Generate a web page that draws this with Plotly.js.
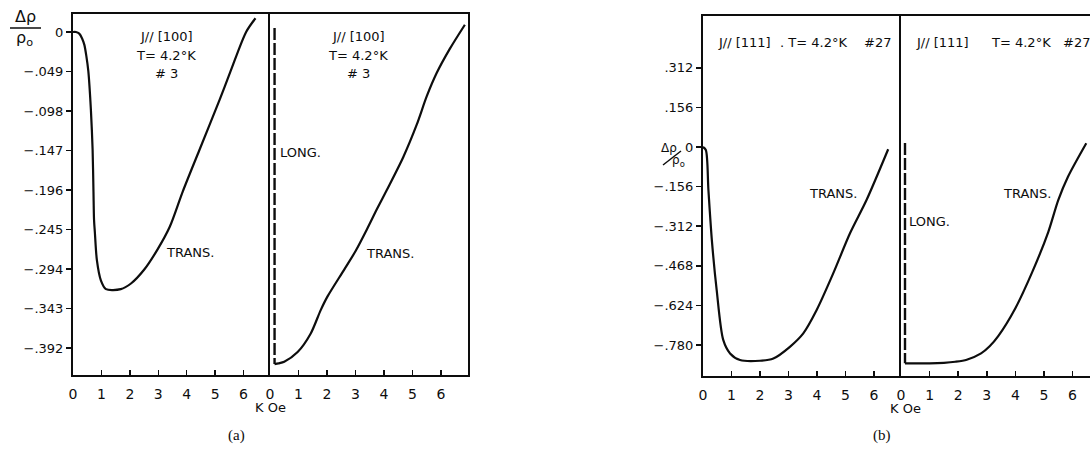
<!DOCTYPE html>
<html>
<head>
<meta charset="utf-8">
<script src="https://cdn.plot.ly/plotly-3.0.1.min.js"></script>
<style>html,body{margin:0;padding:0;background:#fff}#chart{width:1090px;height:449px}</style>
</head>
<body>
<div id="chart"></div>
<script>
// ---- data (field in kOe, Δρ/ρ0) ----
// (a) J // [100], sample #3
const aTransLeftX = [0, 0.1, 0.22, 0.32, 0.4, 0.47, 0.54, 0.63, 0.69, 0.72, 0.74, 0.77, 0.84, 0.98, 1.16, 1.68, 2.04, 2.5, 2.97, 3.4, 3.86, 4.44, 5.16, 5.54, 6.09, 6.42];
const aTransLeftY = [0, 0, -0.002, -0.008, -0.016, -0.03, -0.049, -0.097, -0.146, -0.198, -0.233, -0.249, -0.283, -0.308, -0.319, -0.319, -0.312, -0.295, -0.27, -0.242, -0.198, -0.147, -0.084, -0.049, 0, 0.017];
const aTransRightX = [0.16, 0.3, 0.5, 0.97, 1.43, 1.78, 2.02, 2.6, 3.0, 3.4, 3.75, 4.1, 4.68, 5.15, 5.5, 5.85, 6.31, 6.84];
const aTransRightY = [-0.412, -0.411, -0.409, -0.397, -0.374, -0.345, -0.328, -0.295, -0.272, -0.245, -0.22, -0.196, -0.155, -0.115, -0.08, -0.051, -0.021, 0.009];
const aLongX = [0.16, 0.16];
const aLongY = [0.005, -0.412];
// (b) J // [111], sample #27
const bTransLeftX = [0, 0.1, 0.19, 0.31, 0.48, 0.71, 0.95, 1.3, 2.0, 2.47, 3.05, 3.52, 3.99, 4.57, 5.16, 5.74, 6.5];
const bTransLeftY = [0, -0.012, -0.169, -0.366, -0.563, -0.76, -0.813, -0.839, -0.842, -0.833, -0.787, -0.734, -0.642, -0.498, -0.34, -0.209, -0.009];
const bTransRightX = [0.14, 1.0, 1.5, 1.9, 2.3, 2.8, 3.1, 3.4, 4.0, 4.6, 5.15, 5.5, 5.84, 6.48];
const bTransRightY = [-0.852, -0.852, -0.85, -0.846, -0.838, -0.813, -0.785, -0.745, -0.635, -0.49, -0.335, -0.209, -0.117, 0.015];
const bLongX = [0.14, 0.14];
const bLongY = [0.016, -0.852];
// tick labels
const xTickVals = [0, 1, 2, 3, 4, 5, 6];
const xTickText = ['0', '1', '2', '3', '4', '5', '6'];
const aYTickVals = [0, -0.049, -0.098, -0.147, -0.196, -0.245, -0.294, -0.343, -0.392];
const aYTickText = ['0', '\u2212.049', '\u2212.098', '\u2212.147', '\u2212.196', '\u2212.245', '\u2212.294', '\u2212.343', '\u2212.392'];
const bYTickVals = [0.312, 0.156, 0, -0.156, -0.312, -0.468, -0.624, -0.780];
const bYTickText = ['.312', '.156', '0', '\u2212.156', '\u2212.312', '\u2212.468', '\u2212.624', '\u2212.780'];

// ---- layout helpers ----
const W = 1090, H = 449;
const fx = p => p / W;
const fy = p => 1 - p / H;
const INK = '#0d0d0d';
const FONT = 'DejaVu Sans, Verdana, sans-serif';

const solid = {color: INK, width: 2.2, shape: 'spline', smoothing: 0.8};
const dashed = {color: INK, width: 2.4, dash: '12px,3px'};

const traces = [
  {x: aTransLeftX, y: aTransLeftY, xaxis: 'x', yaxis: 'y', mode: 'lines', line: solid},
  {x: aTransRightX, y: aTransRightY, xaxis: 'x2', yaxis: 'y2', mode: 'lines', line: solid},
  {x: aLongX, y: aLongY, xaxis: 'x2', yaxis: 'y2', mode: 'lines', line: dashed},
  {x: bTransLeftX, y: bTransLeftY, xaxis: 'x3', yaxis: 'y3', mode: 'lines', line: solid},
  {x: bTransRightX, y: bTransRightY, xaxis: 'x4', yaxis: 'y4', mode: 'lines', line: solid},
  {x: bLongX, y: bLongY, xaxis: 'x4', yaxis: 'y4', mode: 'lines', line: dashed}
];

function xax(domain, range, anchor) {
  return {
    domain: domain, range: range, anchor: anchor,
    showgrid: false, zeroline: false,
    showline: true, linecolor: INK, linewidth: 2, mirror: true,
    ticks: 'inside', ticklen: 5, tickwidth: 1.5, tickcolor: INK,
    tickmode: 'array', tickvals: xTickVals, ticktext: xTickText, ticklabelstandoff: 5,
    tickfont: {family: FONT, size: 14, color: INK}, fixedrange: true
  };
}
function yax(domain, range, anchor, vals, text) {
  return {
    domain: domain, range: range, anchor: anchor,
    showgrid: false, zeroline: false,
    showline: true, linecolor: INK, linewidth: 2, mirror: false,
    ticks: 'outside', ticklen: 5, tickwidth: 1.5, tickcolor: INK,
    tickmode: 'array', tickvals: vals, ticktext: text,
    tickfont: {family: FONT, size: 13, color: INK}, fixedrange: true
  };
}
function yaxBare(domain, range, anchor, mirror) {
  return {
    domain: domain, range: range, anchor: anchor,
    showgrid: false, zeroline: false,
    showline: true, linecolor: INK, linewidth: 2, mirror: mirror,
    ticks: '', showticklabels: false, fixedrange: true
  };
}

const aYDom = [fy(375), fy(14)], bYDom = [fy(376), fy(16)];
const aYRange = [-0.4255, 0.0223], bYRange = [-0.902, 0.516];

function txt(text, x, y, size, extra) {
  return Object.assign({text: text, xref: 'paper', yref: 'paper', x: fx(x), y: fy(y),
    xanchor: 'center', yanchor: 'middle', showarrow: false,
    font: {family: FONT, size: size || 13, color: INK}}, extra || {});
}
const serif = {font: {family: 'Liberation Serif, serif', size: 15, color: INK}};

const annotations = [
  // (a)
  txt('J// [100]', 166, 37), txt('T= 4.2\u00b0K', 166, 55), txt('# 3', 166, 73),
  txt('J// [100]', 358, 37), txt('T= 4.2\u00b0K', 358, 55), txt('# 3', 358, 73),
  txt('TRANS.', 190, 252), txt('TRANS.', 390, 253),
  txt('LONG.', 278, 153, 13, {xanchor: 'left'}),
  txt('K Oe', 270, 407),
  txt('(a)', 236, 435, 15, serif),
  txt('\u0394\u03c1', 25, 17, 16), txt('\u03c1<sub>o</sub>', 24, 38, 16),
  // (b)
  txt('J// [111]', 744, 43), txt('. T= 4.2\u00b0K', 813, 43), txt('#27', 877, 43),
  txt('J// [111]', 942, 43), txt('T= 4.2\u00b0K', 1021, 43), txt('#27', 1076, 43),
  txt('TRANS.', 833, 193), txt('TRANS.', 1027, 193),
  txt('LONG.', 907, 221, 13, {xanchor: 'left'}),
  txt('K Oe', 905, 408),
  txt('(b)', 882, 435, 15, serif),
  txt('\u0394\u03c1', 669, 148, 12), txt('\u03c1<sub>o</sub>', 678, 161, 12)
];

const shapes = [
  {type: 'line', xref: 'paper', yref: 'paper', x0: fx(10), x1: fx(41), y0: fy(28), y1: fy(28), line: {color: INK, width: 1.5}},
  {type: 'line', xref: 'paper', yref: 'paper', x0: fx(663), x1: fx(681), y0: fy(165), y1: fy(151), line: {color: INK, width: 1.5}}
];

const layout = {
  width: W, height: H,
  margin: {l: 0, r: 0, t: 0, b: 0},
  paper_bgcolor: '#fff', plot_bgcolor: 'rgba(0,0,0,0)',
  showlegend: false,
  xaxis: xax([fx(73), fx(270)], [0, 6.93], 'y'),
  yaxis: yax(aYDom, aYRange, 'x', aYTickVals, aYTickText),
  xaxis2: xax([fx(270), fx(468)], [0, 6.95], 'y2'),
  yaxis2: yaxBare(aYDom, aYRange, 'x2', true),
  xaxis3: xax([fx(703), fx(901)], [0, 6.95], 'y3'),
  yaxis3: yax(bYDom, bYRange, 'x3', bYTickVals, bYTickText),
  xaxis4: xax([fx(901), 1], [0, 6.61], 'y4'),
  yaxis4: yaxBare(bYDom, bYRange, 'x4', false),
  annotations: annotations,
  shapes: shapes
};

Plotly.newPlot('chart', traces, layout, {staticPlot: true, displayModeBar: false});
</script>
</body>
</html>
